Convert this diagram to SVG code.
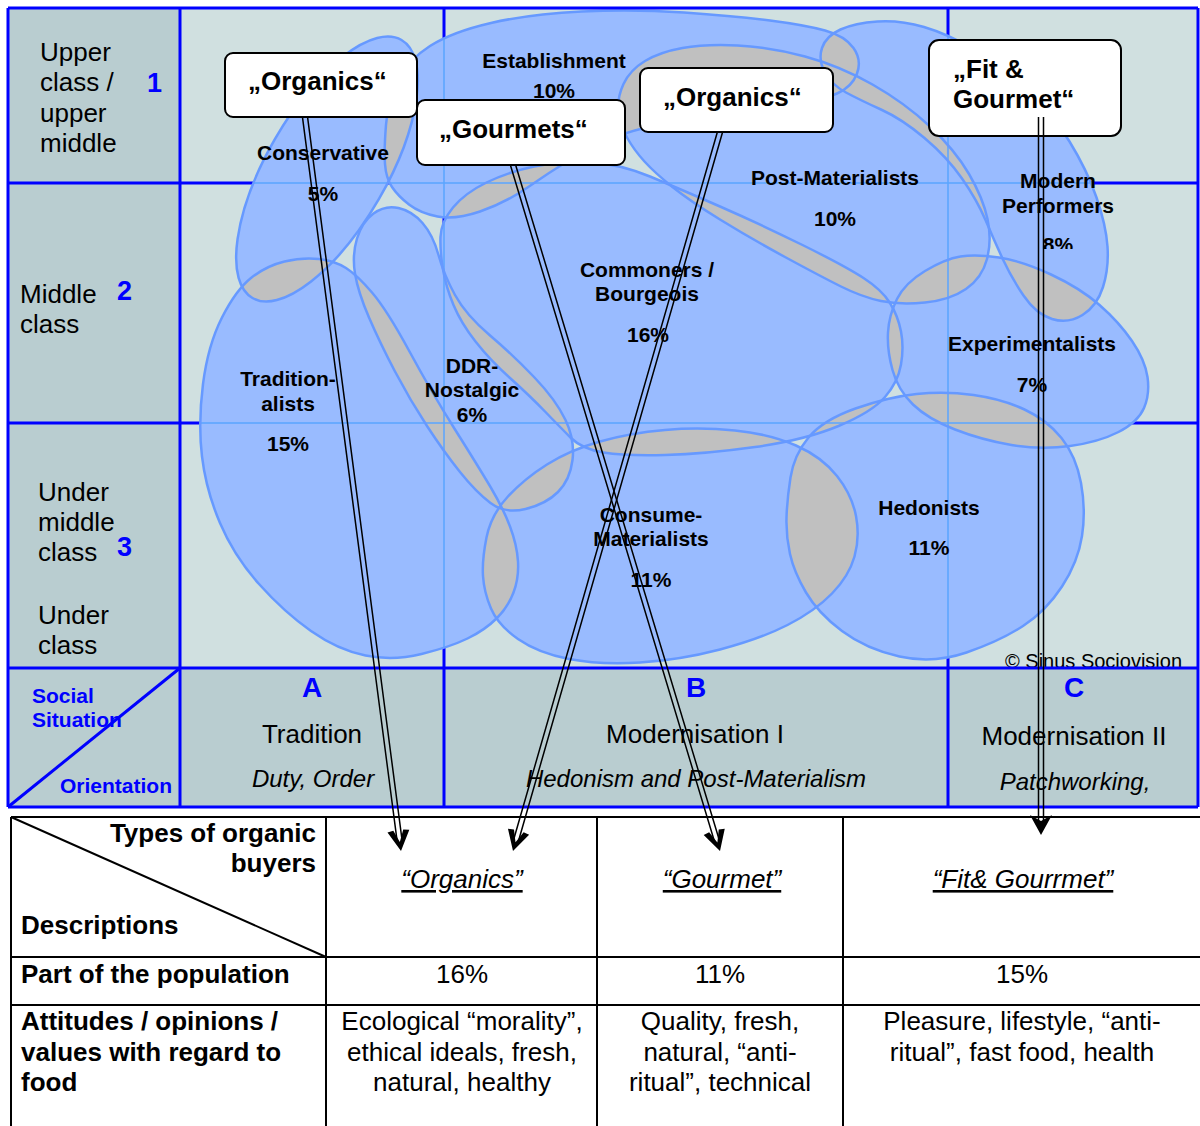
<svg xmlns="http://www.w3.org/2000/svg" width="1200" height="1126" viewBox="0 0 1200 1126">
<style>
text{font-family:'Liberation Sans',Arial,sans-serif;fill:#000}
.lab{font-size:21px;font-weight:bold;text-anchor:middle}
.side{font-size:26px}
.num{font-size:27px;font-weight:bold;fill:#0000ff}
.blue{font-size:21px;font-weight:bold;fill:#0000ff}
.col{font-size:26px;text-anchor:middle}
.colL{font-size:28px;font-weight:bold;fill:#0000ff;text-anchor:middle}
.it{font-size:24px;font-style:italic;text-anchor:middle}
.box{fill:#fff;stroke:#000;stroke-width:2}
.bt{font-size:26px;font-weight:bold}
.ar{stroke:#000;stroke-width:1.5;fill:none}
.ah{fill:#000}
.tl{stroke:#000;stroke-width:2;fill:none}
.tc{font-size:26px;text-anchor:middle}
.tb{font-size:26px;font-weight:bold}
.ti{font-size:26px;font-style:italic;text-anchor:middle;text-decoration:underline}
.grid{stroke:#0000ff;stroke-width:3;fill:none}
.thin{stroke:#5aa5ff;stroke-width:1.5;fill:none}
.bf{fill:#99bbff}
.bg{fill:#c0c0c0}
.bo{fill:none;stroke:#6699ff;stroke-width:2.5}
</style>
<defs>
<ellipse id="b1" cx="327" cy="169" rx="60" ry="149" transform="rotate(30 327 169)"/>
<path id="b2" d="M385,164 Q384,150 386,125 Q388,100 398,80 Q408,60 430,46 Q452,32 491,23 Q530,14 581.5,11.5 Q633,9 684,12.5 Q735,16 770,20.5 Q805,25 825,30.5 Q845,36 853.5,48 Q862,60 857,73.5 Q852,87 837,93.5 Q822,100 791,105 Q760,110 725,114.5 Q690,119 661,124.5 Q632,130 612,138 Q592,146 571,159 Q550,172 527.5,187.5 Q505,203 480,211.5 Q455,220 437.5,216.5 Q420,213 409,204.5 Q398,196 392,187 Q386,178 385,164 Z"/>
<path id="b3" d="M618.5,111.5 Q617,98 623.5,84 Q630,70 645,61 Q660,52 682.5,48 Q705,44 737.5,45.5 Q770,47 805,56.5 Q840,66 872.5,84.5 Q905,103 930,126.5 Q955,150 969,174 Q983,198 987.5,219 Q992,240 987,259 Q982,278 966,289 Q950,300 925,302.5 Q900,305 881,301 Q862,297 841,286.5 Q820,276 785,257 Q750,238 720,219.5 Q690,201 672.5,187 Q655,173 644.5,161.5 Q634,150 627,137.5 Q620,125 618.5,111.5 Z"/>
<path id="b4" d="M825,72.5 Q818,60 822,48 Q826,36 840.5,29.5 Q855,23 877.5,21.5 Q900,20 924,27 Q948,34 975,50 Q1002,66 1027,89.5 Q1052,113 1069.5,141.5 Q1087,170 1096.5,197.5 Q1106,225 1107.5,246.5 Q1109,268 1103,287 Q1097,306 1082.5,315 Q1068,324 1052,319 Q1036,314 1023.5,295.5 Q1011,277 1002.5,258.5 Q994,240 985.5,220 Q977,200 962,178.5 Q947,157 924.5,138 Q902,119 881,109.5 Q860,100 846,92.5 Q832,85 825,72.5 Z"/>
<path id="b5" d="M440.5,237 Q441,222 453,207.5 Q465,193 486.5,182.5 Q508,172 534,166.5 Q560,161 590,162.5 Q620,164 650,176.5 Q680,189 720,206.5 Q760,224 802.5,245 Q845,266 863.5,278 Q882,290 890,303 Q898,316 901,331.5 Q904,347 901,364.5 Q898,382 885,397 Q872,412 838.5,426 Q805,440 755,447 Q705,454 665,455 Q625,456 603.5,452.5 Q582,449 571,438 Q560,427 545,411.5 Q530,396 510,378 Q490,360 475.5,341.5 Q461,323 453.5,305 Q446,287 443,269.5 Q440,252 440.5,237 Z"/>
<path id="b6" d="M373.5,213.5 Q385,205 398.5,208 Q412,211 422.5,223 Q433,235 438.5,255 Q444,275 455,295 Q466,315 489.5,335 Q513,355 534.5,377.5 Q556,400 565.5,420 Q575,440 572.5,460 Q570,480 558,492 Q546,504 525.5,509 Q505,514 490.5,503 Q476,492 460,472 Q444,452 427,426 Q410,400 395,371.5 Q380,343 369,317.5 Q358,292 355,273.5 Q352,255 357,238.5 Q362,222 373.5,213.5 Z"/>
<path id="b7" d="M284.5,261.5 Q303,257 319,259 Q335,261 346,268 Q357,275 372,292.5 Q387,310 409.5,351.5 Q432,393 455,429.5 Q478,466 490.5,487 Q503,508 510,526.5 Q517,545 518,561.5 Q519,578 513.5,592.5 Q508,607 496.5,618.5 Q485,630 467.5,638.5 Q450,647 421.5,654 Q393,661 365.5,655.5 Q338,650 311,631 Q284,612 259,584 Q234,556 220,523 Q206,490 202,456.5 Q198,423 203,384 Q208,345 222,317.5 Q236,290 251,278 Q266,266 284.5,261.5 Z"/>
<path id="b8" d="M483,576 Q482,560 486.5,537.5 Q491,515 507.5,497 Q524,479 547,464.5 Q570,450 600,441.5 Q630,433 665,430 Q700,427 735,430.5 Q770,434 796,445.5 Q822,457 837,476 Q852,495 856,516 Q860,537 854.5,556.5 Q849,576 832,593.5 Q815,611 787.5,625 Q760,639 720,649.5 Q680,660 640,662.5 Q600,665 569,659 Q538,653 518,639 Q498,625 491,608.5 Q484,592 483,576 Z"/>
<path id="b9" d="M786.5,518 Q787,500 790.5,477.5 Q794,455 808.5,437.5 Q823,420 855.5,408.5 Q888,397 916.5,394 Q945,391 973.5,395 Q1002,399 1024.5,409.5 Q1047,420 1061.5,438 Q1076,456 1081,483 Q1086,510 1082,536 Q1078,562 1062,586.5 Q1046,611 1023,626 Q1000,641 966.5,652.5 Q933,664 899.5,656.5 Q866,649 842,631 Q818,613 806,592.5 Q794,572 790,554 Q786,536 786.5,518 Z"/>
<path id="b10" d="M888,332.5 Q889,315 897,299 Q905,283 925,271 Q945,259 960.5,256.5 Q976,254 999,257.5 Q1022,261 1051,274.5 Q1080,288 1099.5,305 Q1119,322 1132,341 Q1145,360 1147.5,377 Q1150,394 1144,408 Q1138,422 1118.5,432 Q1099,442 1070,446 Q1041,450 1011.5,445 Q982,440 955,429.5 Q928,419 913,404.5 Q898,390 892.5,370 Q887,350 888,332.5 Z"/>
<clipPath id="c1"><use href="#b2"/><use href="#b3"/><use href="#b4"/><use href="#b5"/><use href="#b6"/><use href="#b7"/><use href="#b8"/><use href="#b9"/><use href="#b10"/></clipPath>
<clipPath id="c2"><use href="#b3"/><use href="#b4"/><use href="#b5"/><use href="#b6"/><use href="#b7"/><use href="#b8"/><use href="#b9"/><use href="#b10"/></clipPath>
<clipPath id="c3"><use href="#b4"/><use href="#b5"/><use href="#b6"/><use href="#b7"/><use href="#b8"/><use href="#b9"/><use href="#b10"/></clipPath>
<clipPath id="c4"><use href="#b5"/><use href="#b6"/><use href="#b7"/><use href="#b8"/><use href="#b9"/><use href="#b10"/></clipPath>
<clipPath id="c5"><use href="#b6"/><use href="#b7"/><use href="#b8"/><use href="#b9"/><use href="#b10"/></clipPath>
<clipPath id="c6"><use href="#b7"/><use href="#b8"/><use href="#b9"/><use href="#b10"/></clipPath>
<clipPath id="c7"><use href="#b8"/><use href="#b9"/><use href="#b10"/></clipPath>
<clipPath id="c8"><use href="#b9"/><use href="#b10"/></clipPath>
<clipPath id="c9"><use href="#b10"/></clipPath>
<clipPath id="call"><use href="#b1"/><use href="#b2"/><use href="#b3"/><use href="#b4"/><use href="#b5"/><use href="#b6"/><use href="#b7"/><use href="#b8"/><use href="#b9"/><use href="#b10"/></clipPath>
<clipPath id="cut8"><rect x="1000" y="200" width="120" height="49"/></clipPath>
<path id="ahd" class="ah" d="M0,0L-20,-11L-21,-5L-9,0L-21,5L-20,11Z"/>
<path id="ahf" class="ah" d="M0,0L-20,-11L-14,0L-20,11Z"/>
</defs>

<rect x="0" y="0" width="1200" height="1126" fill="#fff"/>
<rect x="8" y="8" width="1190" height="660" fill="#d0e0e0"/>
<rect x="8" y="8" width="172" height="660" fill="#b9cdd0"/>
<path class="grid" d="M180,183H1198 M180,423H1198 M444,8V668 M948,8V668"/>

<g id="milieus">
<g class="bf"><use href="#b1"/><use href="#b2"/><use href="#b3"/><use href="#b4"/><use href="#b5"/><use href="#b6"/><use href="#b7"/><use href="#b8"/><use href="#b9"/><use href="#b10"/></g>
<g class="bg"><use href="#b1" clip-path="url(#c1)"/><use href="#b2" clip-path="url(#c2)"/><use href="#b3" clip-path="url(#c3)"/><use href="#b4" clip-path="url(#c4)"/><use href="#b5" clip-path="url(#c5)"/><use href="#b6" clip-path="url(#c6)"/><use href="#b7" clip-path="url(#c7)"/><use href="#b8" clip-path="url(#c8)"/><use href="#b9" clip-path="url(#c9)"/></g>
<g clip-path="url(#call)"><path class="thin" d="M180,183H1198 M180,423H1198 M444,8V668 M948,8V668"/></g>
<g class="bo"><use href="#b1"/><use href="#b2"/><use href="#b3"/><use href="#b4"/><use href="#b5"/><use href="#b6"/><use href="#b7"/><use href="#b8"/><use href="#b9"/><use href="#b10"/></g>
</g>

<text x="1005" y="668" font-size="20">© Sinus Sociovision</text>
<rect x="8" y="668" width="1190" height="139" fill="#b9cdd0"/>
<path class="grid" d="M8,8H1198 M8,8V807 M180,8V807 M1198,8V807 M8,668H1198 M8,807H1198 M444,668V807 M948,668V807 M8,183H180 M8,423H180"/>
<path class="grid" d="M8,807L180,668" stroke-width="2.5"/>

<g id="milieu-labels">
<g id="lab-establishment"><text class="lab" x="554" y="68">Establishment</text><text class="lab" x="554" y="98">10%</text></g>
<g id="lab-conservative"><text class="lab" x="323" y="160">Conservative</text><text class="lab" x="323" y="201">5%</text></g>
<g id="lab-postmat"><text class="lab" x="835" y="185">Post-Materialists</text><text class="lab" x="835" y="226">10%</text></g>
<g id="lab-modern"><text class="lab" x="1058" y="188">Modern</text><text class="lab" x="1058" y="213">Performers</text><text class="lab" x="1058" y="252" clip-path="url(#cut8)">8%</text></g>
<g id="lab-commoners"><text class="lab" x="647" y="277">Commoners /</text><text class="lab" x="647" y="301">Bourgeois</text><text class="lab" x="648" y="342">16%</text></g>
<g id="lab-traditionalists"><text class="lab" x="288" y="386">Tradition-</text><text class="lab" x="288" y="411">alists</text><text class="lab" x="288" y="451">15%</text></g>
<g id="lab-ddr"><text class="lab" x="472" y="373">DDR-</text><text class="lab" x="472" y="397">Nostalgic</text><text class="lab" x="472" y="422">6%</text></g>
<g id="lab-experimentalists"><text class="lab" x="1032" y="351">Experimentalists</text><text class="lab" x="1032" y="392">7%</text></g>
<g id="lab-consume"><text class="lab" x="651" y="522">Consume-</text><text class="lab" x="651" y="546">Materialists</text><text class="lab" x="651" y="587">11%</text></g>
<g id="lab-hedonists"><text class="lab" x="929" y="515">Hedonists</text><text class="lab" x="929" y="555">11%</text></g>
</g>

<g id="axis-labels">
<text class="side" x="40" y="61">Upper</text><text class="side" x="40" y="91">class /</text><text class="side" x="40" y="122">upper</text><text class="side" x="40" y="152">middle</text>
<text class="num" x="147" y="92">1</text>
<text class="side" x="20" y="303">Middle</text><text class="side" x="20" y="333">class</text>
<text class="num" x="117" y="300">2</text>
<text class="side" x="38" y="501">Under</text><text class="side" x="38" y="531">middle</text><text class="side" x="38" y="561">class</text>
<text class="num" x="117" y="556">3</text>
<text class="side" x="38" y="624">Under</text><text class="side" x="38" y="654">class</text>
<text class="blue" x="32" y="703">Social</text><text class="blue" x="32" y="727">Situation</text><text class="blue" x="60" y="793">Orientation</text>
<text class="colL" x="312" y="697">A</text><text class="col" x="312" y="743">Tradition</text><text class="it" x="313" y="787">Duty, Order</text>
<text class="colL" x="696" y="697">B</text><text class="col" x="695" y="743">Modernisation I</text><text class="it" x="696" y="787">Hedonism and Post-Materialism</text>
<text class="colL" x="1074" y="697">C</text><text class="col" x="1074" y="745">Modernisation II</text><text class="it" x="1075" y="790">Patchworking,</text>
</g>

<g id="box-organics-1"><rect class="box" x="225" y="53" width="192" height="64" rx="8"/><text class="bt" x="248" y="90">„Organics“</text></g>
<g id="box-gourmets"><rect class="box" x="417" y="100" width="208" height="65" rx="8"/><text class="bt" x="439" y="138">„Gourmets“</text></g>
<g id="box-organics-2"><rect class="box" x="640" y="68" width="193" height="64" rx="8"/><text class="bt" x="663" y="106">„Organics“</text></g>
<g id="box-fit-gourmet"><rect class="box" x="929" y="40" width="192" height="96" rx="10"/><text class="bt" x="953" y="78">„Fit &amp;</text><text class="bt" x="953" y="108">Gourmet“</text></g>

<g id="table">
<path class="tl" d="M11,817H1200 M11,957H1200 M11,1005H1200 M11,817V1126 M326,817V1126 M597,817V1126 M843,817V1126"/>
<path class="tl" d="M11,817L326,957" stroke-width="1.5"/>
<g id="cell-header"><text class="tb" x="316" y="842" text-anchor="end">Types of organic</text><text class="tb" x="316" y="872" text-anchor="end">buyers</text><text class="tb" x="21" y="934">Descriptions</text></g>
<text class="tb" x="21" y="983">Part of the population</text>
<text class="tb" x="21" y="1030">Attitudes / opinions /</text><text class="tb" x="21" y="1061">values with regard to</text><text class="tb" x="21" y="1091">food</text>
<g id="col-organics"><text class="ti" x="462" y="888">“Organics”</text><text class="tc" x="462" y="983">16%</text><text class="tc" x="462" y="1030">Ecological “morality”,</text><text class="tc" x="462" y="1061">ethical ideals, fresh,</text><text class="tc" x="462" y="1091">natural, healthy</text></g>
<g id="col-gourmet"><text class="ti" x="722" y="888">“Gourmet”</text><text class="tc" x="720" y="983">11%</text><text class="tc" x="720" y="1030">Quality, fresh,</text><text class="tc" x="720" y="1061">natural, “anti-</text><text class="tc" x="720" y="1091">ritual”, technical</text></g>
<g id="col-fit"><text class="ti" x="1023" y="888">“Fit&amp; Gourrmet”</text><text class="tc" x="1022" y="983">15%</text><text class="tc" x="1022" y="1030">Pleasure, lifestyle, “anti-</text><text class="tc" x="1022" y="1061">ritual”, fast food, health</text></g>
</g>

<g id="connectors">
<path class="ar" d="M302.5,117.3L396.9,839.4M307.5,116.7L401.9,838.8"/>
<use href="#ahd" transform="translate(401,851) rotate(82.54)"/>
<path class="ar" d="M717.6,131.3L513.9,838.8M722.4,132.7L518.7,840.2"/>
<use href="#ahd" transform="translate(513,851) rotate(106.06)"/>
<path class="ar" d="M510.6,165.7L714.1,840.2M515.4,164.3L718.9,838.8"/>
<use href="#ahd" transform="translate(720,851) rotate(73.21)"/>
<path class="ar" d="M1038.5,117V823M1043.5,117V823"/>
<use href="#ahf" transform="translate(1041,835) rotate(90)"/>
</g>
</svg>
